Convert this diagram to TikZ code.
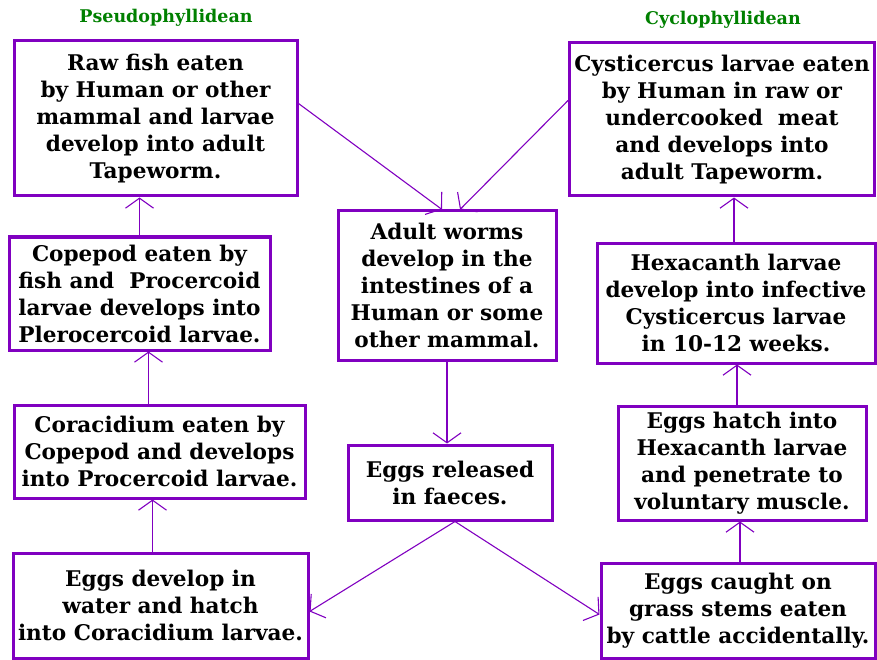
\documentclass[tikz,border=0pt]{standalone}
\usepackage{fontspec}
\setmainfont{DejaVu Serif}
\usetikzlibrary{arrows.meta}
\definecolor{cyclepurple}{RGB}{128,0,192}
\definecolor{titlegreen}{RGB}{0,128,0}
\begin{document}
\begin{tikzpicture}[x=1pt,y=-1pt,>={Straight Barb[length=10pt,width=28pt]},
	box/.style={draw=cyclepurple,line width=3pt,align=center,inner sep=0pt,font=\bfseries\fontsize{21.6}{27}\selectfont},
	link/.style={->,draw=cyclepurple,line width=1.1pt},
	ttl/.style={text=titlegreen,font=\bfseries\fontsize{17.5}{20}\selectfont}]
	\useasboundingbox (0,0) rectangle (877,660);
	% Tieu de
	\node[ttl] (tpseudo) at (166,18) {Pseudophyllidean};
	\node[ttl] (tcyclo) at (723,20) {Cyclophyllidean};
	% Cot trai
	\node[box,minimum width=283pt,minimum height=155pt] (rawfish) at (155.5,118.5) {Raw fish eaten\\by Human or other\\mammal and larvae\\develop into adult\\Tapeworm.};
	\node[box,minimum width=261pt,minimum height=113pt] (copepod) at (139.5,293.5) {Copepod eaten by\\fish and~ Procercoid\\larvae develops into\\Plerocercoid larvae.};
	\node[box,minimum width=291pt,minimum height=93pt] (coracid) at (159.5,451.5) {Coracidium eaten by\\Copepod and develops\\into Procercoid larvae.};
	\node[box,minimum width=295pt,minimum height=105pt] (eggwater) at (160.5,605.5) {Eggs develop in\\water and hatch\\into Coracidium larvae.};
	% Cot giua
	\node[box,minimum width=218pt,minimum height=149pt] (adult) at (447,285.5) {Adult worms\\develop in the\\intestines of a\\Human or some\\other mammal.};
	\node[box,minimum width=204pt,minimum height=75pt] (faeces) at (450,482.5) {Eggs released\\in faeces.};
	% Cot phai
	\node[box,minimum width=305pt,minimum height=153pt] (cysti) at (722,119.5) {Cysticercus larvae eaten\\by Human in raw or\\undercooked~ meat\\and develops into\\adult Tapeworm.};
	\node[box,minimum width=278pt,minimum height=120pt] (hexa) at (736,303) {Hexacanth larvae\\develop into infective\\Cysticercus larvae\\in 10-12 weeks.};
	\node[box,minimum width=248pt,minimum height=114pt] (hatch) at (742,463) {Eggs hatch into\\Hexacanth larvae\\and penetrate to\\voluntary muscle.};
	\node[box,minimum width=274pt,minimum height=95pt] (grass) at (738,610.5) {Eggs caught on\\grass stems eaten\\by cattle accidentally.};
	% Mui ten
	\draw[link] ([yshift=15pt]rawfish.east) -- ([xshift=-5pt]adult.north);
	\draw[link] ([yshift=19pt]cysti.west) -- ([xshift=13pt]adult.north);
	\foreach \s/\t/\d in {copepod/rawfish/0,coracid/copepod/-11,eggwater/coracid/-8,grass/hatch/2,hatch/hexa/-5,hexa/cysti/-2}
		\draw[link] ([xshift=\d pt]\s.north) -- ([xshift=\d pt]\s.north |- \t.south);
	\draw[link] (adult.south) -- (adult.south |- faeces.north);
	\draw[link] ([xshift=5pt]faeces.south) -- ([yshift=-6pt]eggwater.east);
	\draw[link] ([xshift=5pt]faeces.south) -- ([yshift=-4pt]grass.west);
\end{tikzpicture}
\end{document}
